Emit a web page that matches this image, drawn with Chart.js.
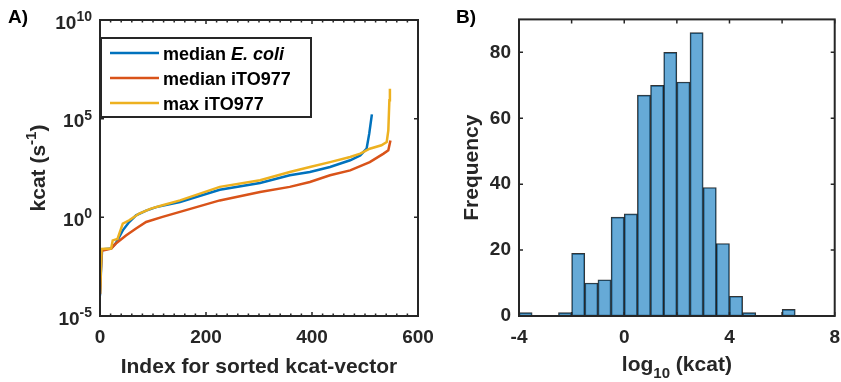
<!DOCTYPE html>
<html lang="en">
<head>
<meta charset="UTF-8">
<title>kcat vectors and distribution</title>
<script src="https://cdn.jsdelivr.net/npm/chart.js@4.4.0/dist/chart.umd.min.js"></script>
<style>
  body { margin: 0; width: 841px; height: 382px; overflow: hidden; background: #fff; position: relative; }
  canvas { position: absolute; top: 0; }
</style>
</head>
<body>
<canvas id="chartA" width="445" height="382" style="left:0"></canvas>
<canvas id="chartB" width="430" height="382" style="left:420px"></canvas>
<script>
// ---- panel A: sorted kcat vectors (index, kcat in 1/s)
const seriesNames = ['median E. coli', 'median iTO977', 'max iTO977'];
const seriesColors = ['#0072BD', '#D95319', '#EDB120'];

const ecoliIdx  = [0, 2, 4, 21, 30, 43, 55, 68, 87, 106, 151, 226, 302, 358, 396, 434, 472, 491, 503, 508, 513];
const ecoliKcat = [1.1e-4, 2.5e-3, 0.024, 0.026, 0.05, 0.22, 0.58, 1.26, 2.2, 3.3, 6.0, 25, 55, 135, 200, 355, 780, 1380, 3000, 17400, 166000];

const itoMedIdx  = [0, 3, 21, 30, 49, 68, 87, 118, 159, 226, 302, 358, 396, 434, 472, 509, 535, 544, 548];
const itoMedKcat = [1.3e-4, 0.02, 0.026, 0.047, 0.12, 0.27, 0.58, 1.05, 2.2, 7.2, 19, 35, 62, 135, 240, 630, 1700, 2500, 7900];

const itoMaxIdx  = [0, 3, 21, 24, 33, 43, 55, 74, 96, 118, 151, 226, 302, 358, 396, 434, 472, 491, 509, 531, 541, 544, 546, 547];
const itoMaxKcat = [1.3e-4, 0.025, 0.026, 0.068, 0.08, 0.48, 0.71, 1.55, 2.75, 4.1, 7.2, 35, 76, 200, 355, 630, 1150, 1700, 3000, 4500, 6600, 25700, 850000, 3.3e6];

const xTicksA = [0, 200, 400, 600];
const yTicksA = [1e-5, 1, 1e5, 1e10];

// ---- panel B: histogram of log10(kcat), bin width 0.5
const binCenters = [-3.75, -3.25, -2.75, -2.25, -1.75, -1.25, -0.75, -0.25, 0.25, 0.75, 1.25, 1.75, 2.25, 2.75, 3.25, 3.75, 4.25, 4.75, 5.25, 5.75, 6.25];
const binCounts  = [1, 0, 0, 1, 19, 10, 11, 30, 31, 67, 70, 80, 71, 86, 39, 22, 6, 1, 0, 0, 2];

const xTicksB = [-4, -2, 0, 2, 4, 6, 8];
const xLabelsB = [-4, 0, 4, 8];
const yTicksB = [0, 20, 40, 60, 80];

const FONT = '"Liberation Sans", Arial, sans-serif';
Chart.defaults.font.family = FONT;
Chart.defaults.font.weight = 'bold';
Chart.defaults.font.size = 19;
Chart.defaults.color = '#262626';
Chart.defaults.animation = false;

// draw text made of pieces; a piece may be raised (sup) or lowered (sub)
function drawRich(ctx, pieces, x, y, align, size) {
  const small = Math.round(size * 0.72);
  let total = 0;
  pieces.forEach(p => {
    ctx.font = (p.italic ? 'italic ' : '') + 'bold ' + (p.sup || p.sub ? small : size) + 'px ' + FONT;
    p.w = ctx.measureText(p.t).width;
    total += p.w;
  });
  let tx = align === 'right' ? x - total : align === 'center' ? x - total / 2 : x;
  ctx.textAlign = 'left';
  ctx.textBaseline = 'alphabetic';
  pieces.forEach(p => {
    ctx.font = (p.italic ? 'italic ' : '') + 'bold ' + (p.sup || p.sub ? small : size) + 'px ' + FONT;
    const dy = p.sup ? -size * 0.4 : p.sub ? size * 0.33 : 0;
    ctx.fillText(p.t, tx, y + dy);
    tx += p.w;
  });
}

// box around the axes, inward tick marks, panel letter and rich-text labels
const framePlugin = {
  id: 'frame',
  afterDatasetsDraw(chart, args, opts) {
    const { ctx, chartArea: a, scales } = chart;
    const xs = scales.x, ys = scales.y;
    ctx.save();
    ctx.strokeStyle = '#262626';
    ctx.lineWidth = 1.5;
    ctx.beginPath();
    (opts.minorX || []).forEach(v => {
      const px = xs.getPixelForValue(v);
      ctx.moveTo(px, a.bottom); ctx.lineTo(px, a.bottom - 2.5);
      ctx.moveTo(px, a.top); ctx.lineTo(px, a.top + 2.5);
    });
    xs.ticks.forEach(t => {
      const px = xs.getPixelForValue(t.value);
      ctx.moveTo(px, a.bottom); ctx.lineTo(px, a.bottom - 4);
      ctx.moveTo(px, a.top); ctx.lineTo(px, a.top + 4);
    });
    ys.ticks.forEach(t => {
      const py = ys.getPixelForValue(t.value);
      ctx.moveTo(a.left, py); ctx.lineTo(a.left + 4, py);
      ctx.moveTo(a.right, py); ctx.lineTo(a.right - 4, py);
    });
    ctx.stroke();
    ctx.lineWidth = 2;
    ctx.strokeRect(a.left, a.top, a.right - a.left, a.bottom - a.top);

    ctx.fillStyle = '#000';
    ctx.font = 'bold 19px ' + FONT;
    ctx.textBaseline = 'alphabetic';
    ctx.textAlign = 'left';
    ctx.fillText(opts.letter, opts.lx, opts.ly);

    ctx.fillStyle = '#262626';
    // power-of-ten tick labels on a log axis
    if (opts.powerTicks) {
      ys.ticks.forEach(t => {
        const py = ys.getPixelForValue(t.value);
        const e = String(Math.round(Math.log10(t.value)));
        drawRich(ctx, [{ t: '10' }, { t: e, sup: true }], a.left - 8, py + 8.5, 'right', 19);
      });
    }
    if (opts.xTitle) {
      drawRich(ctx, opts.xTitle, (a.left + a.right) / 2, opts.xTitleY, 'center', 21);
    }
    if (opts.yTitle) {
      ctx.save();
      ctx.translate(opts.yTitleX, (a.top + a.bottom) / 2);
      ctx.rotate(-Math.PI / 2);
      drawRich(ctx, opts.yTitle, 0, 7.5, 'center', 21);
      ctx.restore();
    }
    ctx.restore();
  }
};

// MATLAB-style legend box in the upper left corner of panel A
const legendPlugin = {
  id: 'boxLegend',
  afterDatasetsDraw(chart) {
    const { ctx, chartArea: a } = chart;
    const x0 = a.left + 1, y0 = a.top + 18, w = 210, h = 79;
    ctx.save();
    ctx.fillStyle = '#fff';
    ctx.fillRect(x0, y0, w, h);
    ctx.strokeStyle = '#262626';
    ctx.lineWidth = 2;
    ctx.strokeRect(x0, y0, w, h);
    chart.data.datasets.forEach((ds, i) => {
      const y = y0 + 15 + i * 25;
      ctx.strokeStyle = ds.borderColor;
      ctx.lineWidth = 2.5;
      ctx.beginPath();
      ctx.moveTo(x0 + 9, y); ctx.lineTo(x0 + 58, y);
      ctx.stroke();
      ctx.fillStyle = '#000';
      const parts = ds.label.split('E. coli');
      const pieces = [{ t: parts[0] }];
      if (parts.length > 1) pieces.push({ t: 'E. coli', italic: true });
      drawRich(ctx, pieces, x0 + 62, y + 7, 'left', 18);
    });
    ctx.restore();
  }
};

function pairs(xs, ys) { return xs.map((x, i) => ({ x: x, y: ys[i] })); }

const minorA = [];
for (let v = 0; v <= 600; v += 20) minorA.push(v);

new Chart(document.getElementById('chartA'), {
  type: 'line',
  data: {
    datasets: [
      { label: seriesNames[0], data: pairs(ecoliIdx, ecoliKcat), borderColor: seriesColors[0], order: 2 },
      { label: seriesNames[1], data: pairs(itoMedIdx, itoMedKcat), borderColor: seriesColors[1], order: 1 },
      { label: seriesNames[2], data: pairs(itoMaxIdx, itoMaxKcat), borderColor: seriesColors[2], order: 0 }
    ]
  },
  options: {
    responsive: false,
    layout: { padding: { top: 20, right: 27, bottom: 0, left: 0 } },
    elements: { point: { radius: 0 }, line: { borderWidth: 2.5, tension: 0 } },
    plugins: {
      legend: { display: false }, tooltip: { enabled: false },
      frame: {
        letter: 'A)', lx: 8, ly: 23, minorX: minorA, powerTicks: true,
        xTitle: [{ t: 'Index for sorted kcat-vector' }], xTitleY: 373,
        yTitle: [{ t: 'kcat (s' }, { t: '-1', sup: true }, { t: ')' }], yTitleX: 37
      }
    },
    scales: {
      x: {
        type: 'linear', min: 0, max: 600,
        afterBuildTicks: s => { s.ticks = xTicksA.map(v => ({ value: v })); },
        afterFit: s => { s.height = 66; },
        grid: { display: false, drawTicks: false },
        border: { display: false },
        ticks: { padding: 10, autoSkip: false, maxRotation: 0 }
      },
      y: {
        type: 'logarithmic', min: 1e-5, max: 1e10,
        afterBuildTicks: s => { s.ticks = yTicksA.map(v => ({ value: v })); },
        afterFit: s => { s.width = 100; },
        grid: { display: false, drawTicks: false },
        border: { display: false },
        ticks: { padding: 8, callback: () => '' }
      }
    }
  },
  plugins: [framePlugin, legendPlugin]
});

new Chart(document.getElementById('chartB'), {
  type: 'bar',
  data: {
    datasets: [{
      label: 'Frequency',
      data: pairs(binCenters, binCounts),
      backgroundColor: 'rgba(0,114,189,0.6)',
      borderColor: 'rgba(0,0,0,0.8)',
      borderWidth: 1,
      borderSkipped: false,
      barPercentage: 1,
      categoryPercentage: 1
    }]
  },
  options: {
    responsive: false,
    layout: { padding: { top: 19, right: 12, bottom: 0, left: 0 } },
    plugins: {
      legend: { display: false }, tooltip: { enabled: false },
      frame: {
        letter: 'B)', lx: 36, ly: 23,
        xTitle: [{ t: 'log' }, { t: '10', sub: true }, { t: ' (kcat)' }], xTitleY: 371
      }
    },
    scales: {
      x: {
        type: 'linear', min: -4, max: 8, offset: false,
        afterBuildTicks: s => { s.ticks = xTicksB.map(v => ({ value: v })); },
        afterFit: s => { s.height = 66; },
        grid: { display: false, drawTicks: false },
        border: { display: false },
        ticks: { padding: 10, autoSkip: false, maxRotation: 0,
          callback: v => xLabelsB.includes(v) ? String(v) : '' }
      },
      y: {
        min: 0, max: 90,
        afterBuildTicks: s => { s.ticks = yTicksB.map(v => ({ value: v })); },
        afterFit: s => { s.width = 99; },
        grid: { display: false, drawTicks: false },
        border: { display: false },
        ticks: { padding: 8 },
        title: { display: true, text: 'Frequency', font: { size: 21 }, padding: { top: 40, bottom: 0 } }
      }
    }
  },
  plugins: [framePlugin]
});
</script>
</body>
</html>
